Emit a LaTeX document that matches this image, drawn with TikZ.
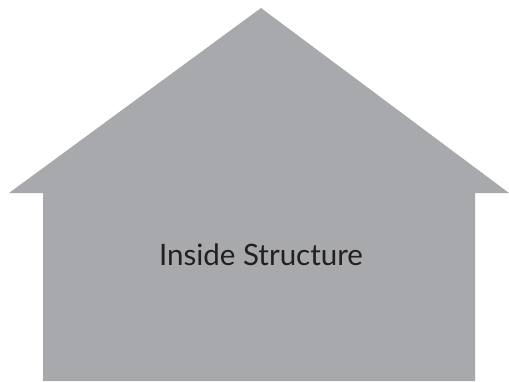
\documentclass[tikz,border=0pt]{standalone}
\usepackage{fontspec}
\setmainfont{Lato}
\definecolor{housegray}{HTML}{A7A9AC}
\definecolor{textdark}{HTML}{231F20}
\begin{document}
\begin{tikzpicture}[x=1pt,y=1pt,
  house/.style={fill=housegray,draw=none},
  label/.style={text=textdark,font=\fontsize{29.5}{33}\selectfont,anchor=base}]
\useasboundingbox (0,0) rectangle (509,381);
\fill[house] (43,0) -- (43,188) -- (9,188) -- (261,373) -- (509,188) -- (475,188) -- (475,0) -- cycle;
\node[label] (title) at (261,116) {Inside Structure};
\end{tikzpicture}
\end{document}
